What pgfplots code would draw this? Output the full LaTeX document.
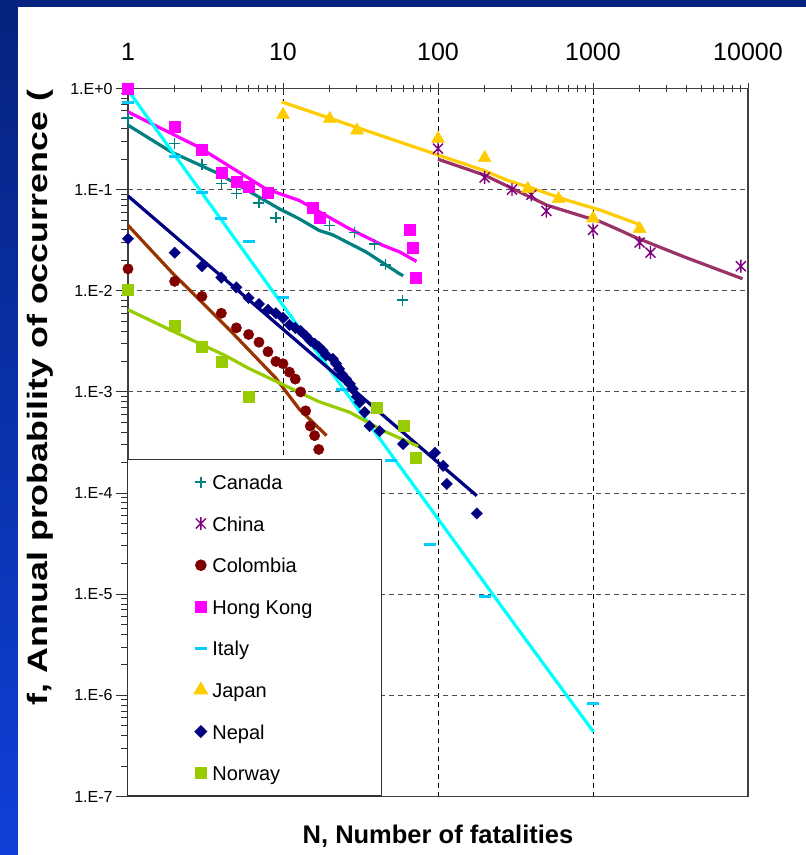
\documentclass[border=0pt]{standalone}
\usepackage{pgfplots}
\pgfplotsset{compat=1.18}
\usepackage{fontspec}
\setmainfont{Liberation Sans}
\definecolor{cCan}{HTML}{008080}
\definecolor{cChi}{HTML}{800080}
\definecolor{cChiL}{HTML}{993366}
\definecolor{cCol}{HTML}{800000}
\definecolor{cColL}{HTML}{993300}
\definecolor{cHK}{HTML}{FF00FF}
\definecolor{cIta}{HTML}{00CCFF}
\definecolor{cItaL}{HTML}{00FFFF}
\definecolor{cJap}{HTML}{FFCC00}
\definecolor{cNep}{HTML}{000080}
\definecolor{cNor}{HTML}{99CC00}
\definecolor{bgTop}{HTML}{05237F}
\definecolor{bgBot}{HTML}{1040D8}
\pgfdeclareplotmark{xvert}{%
  \pgfpathmoveto{\pgfqpoint{-\pgfplotmarksize}{-\pgfplotmarksize}}%
  \pgfpathlineto{\pgfqpoint{\pgfplotmarksize}{\pgfplotmarksize}}%
  \pgfpathmoveto{\pgfqpoint{-\pgfplotmarksize}{\pgfplotmarksize}}%
  \pgfpathlineto{\pgfqpoint{\pgfplotmarksize}{-\pgfplotmarksize}}%
  \pgfpathmoveto{\pgfqpoint{0pt}{-1.3\pgfplotmarksize}}%
  \pgfpathlineto{\pgfqpoint{0pt}{1.3\pgfplotmarksize}}%
  \pgfusepathqstroke}
\begin{document}
\begin{tikzpicture}[x=1pt,y=1pt]
\shade[top color=bgTop,bottom color=bgBot] (0,0) rectangle (806,855);
\fill[white] (18,0) rectangle (806,848);
\begin{axis}[
  at={(128pt,58.5pt)}, anchor=south west,
  scale only axis, width=620pt, height=708pt,
  xmode=log, ymode=log,
  xmin=1, xmax=10000, ymin=1e-7, ymax=1,
  clip=false,
  axis line style={draw=black!75, line width=1.2pt},
  xtick={1,10,100,1000,10000},
  xticklabels={1,10,100,1000,10000},
  ytick={1e-7,1e-6,1e-5,1e-4,1e-3,1e-2,1e-1,1},
  yticklabels={1.E-7,1.E-6,1.E-5,1.E-4,1.E-3,1.E-2,1.E-1,1.E+0},
  xtick pos=right, xticklabel pos=right,
  ytick pos=left,
  xtick align=center, ytick align=outside,
  major tick length=12pt, minor tick length=7pt,
  tick style={black!80, line width=1pt},
  xticklabel style={font=\fontsize{25}{25}\selectfont, yshift=18pt},
  yticklabel style={font=\fontsize{16}{16}\selectfont},
  grid=major,
  x grid style={black, line width=1pt, dash pattern=on 5pt off 4pt},
  y grid style={black!70, line width=1pt, dash pattern=on 5pt off 4pt},
  xlabel={N, Number of fatalities},
  ylabel={\scalebox{1.28}[1]{f, Annual probability of occurrence (}},
  xlabel style={font=\bfseries\fontsize{25.5}{25.5}\selectfont, at={(axis description cs:0.5,-0.0558)}, anchor=center},
  ylabel style={font=\bfseries\fontsize{28}{28}\selectfont, at={(axis description cs:-0.141,0.5636)}, anchor=center},
  legend style={at={(axis description cs:-0.002,0)}, anchor=south west,
    draw=black!80, line width=1.2pt, fill=white,
    inner xsep=0pt, inner ysep=10.2pt,
    font=\fontsize{20}{24}\selectfont,
    row sep=16.6pt, column sep=3pt,
    nodes={inner xsep=0pt, inner ysep=0pt, text height=20pt, text depth=5pt}},
  legend cell align=left,
  legend image code/.code={\draw[#1] plot coordinates {(0pt,0pt)}; \path (-72pt,0pt) (7pt,0pt);},
]
% ---- markers ----
\addplot[only marks, mark=+, color=cCan, mark size=5.5pt, line width=1.4pt] coordinates {
(1,0.51) (2,0.285) (3,0.178) (4,0.115) (5,0.091) (7,0.074) (9,0.0525) (20,0.044) (29,0.0375) (39,0.029) (46,0.018) (59,0.0081)};
\addlegendentry{\makebox[169pt][l]{Canada}}
\addplot[only marks, mark=xvert, color=cChi, mark size=5pt, line width=1.4pt] coordinates {
(100,0.255) (200,0.132) (300,0.10) (400,0.089) (500,0.0615) (1000,0.040) (2000,0.030) (2350,0.0238) (9000,0.0175)};
\addlegendentry{\makebox[169pt][l]{China}}
\addplot[only marks, mark=*, color=cCol, mark size=5.2pt] coordinates {
(1,0.0165) (2,0.0124) (3,0.0088) (4,0.006) (5,0.0043) (6,0.0037) (7,0.0031) (8,0.0025) (9,0.002) (10,0.0019) (11,0.00157) (12,0.00134) (13,0.001) (14,0.00065) (15,0.00046) (16,0.00037) (17,0.00027)};
\addlegendentry{\makebox[169pt][l]{Colombia}}
\addplot[only marks, mark=square*, color=cHK, mark size=5.5pt] coordinates {
(1,1.0) (2,0.42) (3,0.25) (4,0.146) (5,0.121) (6,0.108) (8,0.093) (15.5,0.066) (17.3,0.053) (66,0.040) (68.5,0.0268) (72,0.0134)};
\addlegendentry{\makebox[169pt][l]{Hong Kong}}
\addplot[only marks, mark=-, color=cIta, mark size=6pt, line width=3pt] coordinates {
(1,0.73) (2,0.214) (3,0.093) (4,0.052) (6,0.031) (10,0.0085) (24,0.00105) (50,0.00021) (89,3.1e-5) (200,9.5e-6) (1000,8.3e-7)};
\addlegendentry{\makebox[169pt][l]{Italy}}
\addplot[only marks, mark=triangle*, color=cJap, mark size=7.5pt] coordinates {
(10,0.55) (20,0.50) (30,0.386) (100,0.32) (200,0.206) (380,0.102) (600,0.081) (1000,0.052) (2000,0.041)};
\addlegendentry{\makebox[169pt][l]{Japan}}
\addplot[only marks, mark=square*, mark options={rotate=45}, color=cNep, mark size=4pt] coordinates {
(1,0.0327) (2,0.0238) (3,0.0175) (4,0.0135) (5,0.0108) (6,0.0085) (7,0.0074) (8,0.0065) (9,0.006) (10,0.0054) (11,0.0046) (12,0.0043) (13,0.004) (14,0.0036) (15,0.0032) (16,0.003) (17,0.0028) (18,0.00256) (19,0.0023) (21,0.00212) (22,0.0019) (23,0.00169) (24,0.0015) (25.5,0.00134) (27,0.0012) (28.2,0.00107) (30,0.0009) (31.2,0.00079) (33.6,0.00063) (36.2,0.00046) (42,0.00041) (59.5,0.000305) (95.6,0.00025) (108,0.000186) (114,0.000123) (178,0.000063)};
\addlegendentry{\makebox[169pt][l]{Nepal}}
\addplot[only marks, mark=square*, color=cNor, mark size=5.5pt] coordinates {
(1,0.0103) (2,0.0045) (3,0.0028) (4,0.002) (6,0.0009) (40,0.0007) (60,0.00046) (72,0.000225)};
\addlegendentry{\makebox[169pt][l]{Norway}}
% ---- fitted lines ----
\addplot[forget plot, color=cCan, line width=3.2pt] coordinates {
(1,0.434) (1.9,0.236) (3.84,0.144) (9.42,0.0649) (12.7,0.0516) (17.1,0.0395) (20.9,0.0358) (34.4,0.0242) (56.6,0.0147) (59.6,0.0141)};
\addplot[forget plot, color=cHK, line width=3.2pt] coordinates {
(1,0.587) (2.85,0.264) (7.73,0.102) (12.7,0.0783) (26.8,0.0411) (44.2,0.0281) (56.6,0.0242) (72.7,0.0195)};
\addplot[forget plot, color=cItaL, line width=3.2pt] coordinates {
(1,0.962) (3.16,0.083) (10,0.00716) (31.6,0.00063) (100,5.57e-5) (316,4.9e-6) (1009,4.34e-7)};
\addplot[forget plot, color=cJap, line width=3.2pt] coordinates {
(9.8,0.738) (56.6,0.296) (197,0.155) (279,0.124) (416,0.102) (686,0.0783) (1127,0.0624) (1854,0.0471) (2028,0.0444)};
\addplot[forget plot, color=cChiL, line width=3.2pt] coordinates {
(100,0.2) (200,0.139) (507,0.070) (1127,0.0479) (1445,0.0405) (1854,0.034) (3917,0.0215) (9226,0.01315)};
\addplot[forget plot, color=cColL, line width=3.2pt] coordinates {
(1,0.0444) (1.91,0.0153) (4.46,0.0042) (8.95,0.00138) (12.7,0.00068) (19.1,0.00037)};
\addplot[forget plot, color=cNep, line width=3.2pt] coordinates {
(1,0.0866) (10,0.00417) (50,0.0005) (178,9.4e-5)};
\addplot[forget plot, color=cNor, line width=3.2pt] coordinates {
(1,0.0065) (1.91,0.00405) (4.24,0.00229) (6.01,0.00171) (17.1,0.0008) (26.9,0.00063) (44.2,0.000414) (74.5,0.00029)};
\end{axis}
\end{tikzpicture}
\end{document}
